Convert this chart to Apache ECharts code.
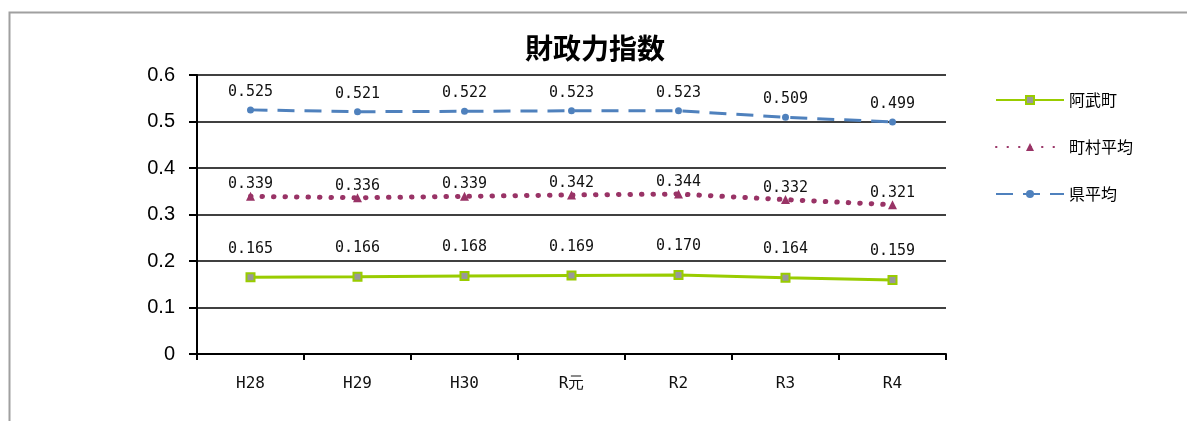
<!DOCTYPE html>
<html>
<head>
<meta charset="utf-8">
<script src="https://cdn.jsdelivr.net/npm/echarts@6/dist/echarts.min.js"></script>
<style>
  html, body { margin: 0; padding: 0; background: #fff; }
  #chart { width: 1187px; height: 421px; }
</style>
</head>
<body>
<div id="chart"></div>
<script>
// 年度
const categories = ["H28", "H29", "H30", "R元", "R2", "R3", "R4"];
// 財政力指数
const abuValues = [0.165, 0.166, 0.168, 0.169, 0.170, 0.164, 0.159];
const townAvgValues = [0.339, 0.336, 0.339, 0.342, 0.344, 0.332, 0.321];
const prefAvgValues = [0.525, 0.521, 0.522, 0.523, 0.523, 0.509, 0.499];
const yTicks = [0, 0.1, 0.2, 0.3, 0.4, 0.5, 0.6];

const monoFont = "'DejaVu Sans Mono', monospace";
const jpFont = "'Noto Sans CJK JP', sans-serif";

// データラベル（系列ごとに点からの距離が違う）
function dataLabel(distance) {
  return {
    show: true,
    position: "top",
    distance: distance,
    color: "#111",
    fontSize: 15,
    fontFamily: monoFont,
    formatter: (p) => p.value.toFixed(3),
  };
}

const myChart = echarts.init(document.getElementById("chart"));
myChart.setOption({
  animation: false,
  backgroundColor: "#fff",
  graphic: [
    {
      type: "rect",
      shape: { x: 9.5, y: 12.5, width: 1190, height: 420 },
      style: { fill: "none", stroke: "#a0a0a0", lineWidth: 2 },
      silent: true,
    },
  ],
  title: {
    text: "財政力指数",
    left: 590,
    textAlign: "center",
    top: 29,
    textStyle: {
      fontSize: 28,
      fontWeight: "bold",
      color: "#000",
      fontFamily: jpFont,
    },
  },
  legend: {
    orient: "vertical",
    left: 990,
    top: 87,
    itemGap: 31,
    itemWidth: 68,
    itemHeight: 10,
    textStyle: {
      fontSize: 16,
      color: "#000",
      fontFamily: jpFont,
    },
    data: ["阿武町", "町村平均", "県平均"],
  },
  grid: { left: 197, right: 241, top: 75, bottom: 67 },
  xAxis: {
    type: "category",
    data: categories,
    boundaryGap: true,
    axisLine: { lineStyle: { color: "#000", width: 2 } },
    axisTick: { show: true, length: 6, lineStyle: { color: "#000", width: 2 } },
    axisLabel: {
      color: "#111",
      fontSize: 16,
      fontFamily: monoFont,
      margin: 22,
    },
  },
  yAxis: {
    type: "value",
    min: yTicks[0],
    max: yTicks[yTicks.length - 1],
    interval: 0.1,
    axisLine: { show: true, lineStyle: { color: "#000", width: 2 } },
    axisTick: { show: true, length: 8, lineStyle: { color: "#000", width: 2 } },
    splitLine: { lineStyle: { color: "#000", width: 1.5 } },
    axisLabel: {
      color: "#000",
      fontSize: 20,
      fontFamily: "'Liberation Sans', sans-serif",
      margin: 22,
      formatter: (v) => (v === 0 ? "0" : v.toFixed(1)),
    },
  },
  series: [
    {
      name: "阿武町",
      type: "line",
      data: abuValues,
      symbol: "rect",
      symbolSize: 8,
      itemStyle: { color: "#999999", borderColor: "#99cc00", borderWidth: 2 },
      lineStyle: { color: "#99cc00", width: 3 },
      label: dataLabel(16),
    },
    {
      name: "町村平均",
      type: "line",
      data: townAvgValues,
      symbol: "triangle",
      symbolSize: 9,
      itemStyle: { color: "#993366" },
      lineStyle: { color: "#993366", width: 5, type: [0.5, 11], cap: "round" },
      label: dataLabel(0),
    },
    {
      name: "県平均",
      type: "line",
      data: prefAvgValues,
      symbol: "circle",
      symbolSize: 7,
      itemStyle: { color: "#4f81bd" },
      lineStyle: { color: "#4f81bd", width: 3, type: [17, 10] },
      label: dataLabel(7),
    },
  ],
});
</script>
</body>
</html>
